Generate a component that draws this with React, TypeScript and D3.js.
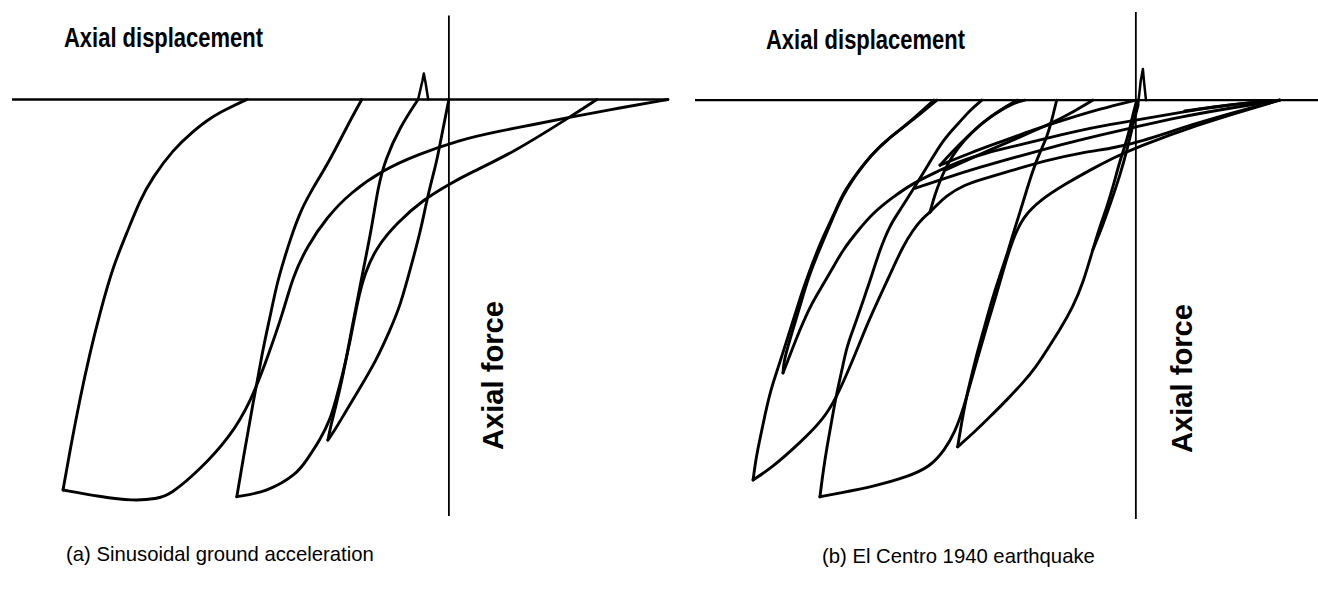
import React from "react";
import * as d3 from "d3";

type P = [number, number];

// ---------- axis extents (displacement, axial force; normalised units) ----------
const dispExtentA: [number, number] = [-9.93, 4.98];
const forceExtentA: [number, number] = [0.2, -0.992];
const dispExtentB: [number, number] = [-10.02, 4.14];
const forceExtentB: [number, number] = [0.21, -0.998];

// ---------- texts ----------
const displacementLabel = "Axial displacement";
const forceLabel = "Axial force";
const captionA = "(a) Sinusoidal ground acceleration";
const captionB = "(b) El Centro 1940 earthquake";

// ---------- panel (a): sinusoidal ground acceleration ----------
const sinBigLoopLeft: P[] = [
  [-4.59, 0], [-5.0, -0.02], [-5.4, -0.042], [-5.83, -0.077], [-6.27, -0.12], [-6.73, -0.185],
  [-7.02, -0.239], [-7.32, -0.318], [-7.64, -0.399], [-7.93, -0.508], [-8.16, -0.604],
  [-8.39, -0.715], [-8.61, -0.835], [-8.77, -0.93],
];
const sinBigLoopReturn: P[] = [
  [-8.77, -0.93], [-7.93, -0.946], [-7.18, -0.956], [-6.64, -0.951], [-6.34, -0.942],
  [-5.66, -0.882], [-4.98, -0.804], [-4.52, -0.723], [-4.14, -0.62], [-3.77, -0.508],
  [-3.55, -0.423], [-3.23, -0.351], [-2.77, -0.28], [-2.25, -0.223], [-1.5, -0.168],
  [-0.73, -0.132], [0.25, -0.096], [1.16, -0.075], [1.91, -0.06], [2.75, -0.042],
  [3.89, -0.02], [4.98, 0],
];
const sinMidLoopLeft: P[] = [
  [-4.82, -0.946], [-4.68, -0.858], [-4.45, -0.723], [-4.23, -0.596], [-4.07, -0.52],
  [-3.91, -0.439], [-3.75, -0.382], [-3.61, -0.335], [-3.39, -0.27], [-3.16, -0.223],
  [-2.7, -0.144], [-2.32, -0.065], [-1.98, 0],
];
const sinMidLoopReturn: P[] = [
  [-4.82, -0.946], [-4.14, -0.935], [-3.45, -0.892], [-3.23, -0.858], [-2.93, -0.811],
  [-2.7, -0.763], [-2.57, -0.715], [-2.43, -0.661], [-2.25, -0.58], [-2.07, -0.477],
  [-1.91, -0.413], [-1.64, -0.351], [-1.18, -0.294], [-0.59, -0.239], [0.02, -0.201],
  [0.48, -0.175], [1.45, -0.127], [2.75, -0.042], [3.36, 0],
];
const sinSpikeBranch: P[] = [
  [-2.75, -0.811], [-2.68, -0.775], [-2.59, -0.739], [-2.41, -0.661], [-2.2, -0.542],
  [-1.98, -0.423], [-1.75, -0.304], [-1.61, -0.208], [-1.45, -0.144], [-1.11, -0.065],
  [-0.7, 0],
];
const sinSpike: P[] = [[-0.7, 0], [-0.6, 0.045], [-0.57, 0.062], [-0.53, 0.04], [-0.47, 0]];
const sinFirstBranch: P[] = [
  [-2.75, -0.811], [-2.59, -0.787], [-2.36, -0.746], [-2.09, -0.699], [-1.64, -0.62],
  [-1.34, -0.549], [-1.11, -0.494], [-0.82, -0.382], [-0.64, -0.311], [-0.5, -0.239],
  [-0.36, -0.18], [-0.27, -0.144], [-0.14, -0.073], [0, 0],
];

// ---------- panel (b): El Centro 1940 ----------
const ecOuterLeft: P[] = [
  [-4.52, 0], [-5.07, -0.048], [-5.59, -0.088], [-5.98, -0.126], [-6.34, -0.174],
  [-6.66, -0.221], [-6.89, -0.279], [-7.11, -0.326], [-7.25, -0.362], [-7.41, -0.405],
  [-7.57, -0.452], [-7.75, -0.512], [-7.93, -0.571], [-8.11, -0.631], [-8.3, -0.69],
  [-8.43, -0.75], [-8.55, -0.81], [-8.64, -0.857], [-8.7, -0.905],
];
const ecOuterInner: P[] = [
  [-4.59, 0], [-5.11, -0.05], [-5.64, -0.093], [-6.02, -0.131], [-6.39, -0.181],
  [-6.68, -0.231], [-6.91, -0.286], [-7.11, -0.336], [-7.25, -0.371], [-7.41, -0.414],
  [-7.55, -0.46], [-7.68, -0.507], [-7.82, -0.555], [-7.93, -0.595], [-8.0, -0.624],
  [-8.02, -0.65],
];
const ecSmallVRise: P[] = [
  [-8.02, -0.65], [-7.86, -0.607], [-7.64, -0.548], [-7.39, -0.488], [-7.11, -0.44],
  [-6.89, -0.4], [-6.66, -0.357], [-6.34, -0.314], [-5.98, -0.269], [-5.52, -0.231],
  [-5.07, -0.198], [-4.45, -0.167], [-4.07, -0.148], [-3.43, -0.126], [-2.64, -0.107],
  [-1.73, -0.083], [-0.82, -0.062], [0, -0.048], [1.0, -0.029], [2.14, -0.01], [3.27, 0],
];
const ecOuterRise: P[] = [
  [-8.7, -0.905], [-8.25, -0.874], [-7.64, -0.817], [-7.11, -0.762], [-6.8, -0.707],
  [-6.55, -0.648], [-6.34, -0.595], [-6.14, -0.543], [-5.93, -0.493], [-5.73, -0.448],
  [-5.52, -0.4], [-5.3, -0.35], [-5.07, -0.31], [-4.84, -0.281], [-4.68, -0.267],
];
const ecCuspSteep: P[] = [
  [-4.68, -0.267], [-4.57, -0.226], [-4.43, -0.186], [-4.27, -0.15], [-4.05, -0.114],
  [-3.73, -0.076], [-3.32, -0.04], [-2.8, -0.007], [-2.52, 0],
];
const ecCuspToTip: P[] = [
  [-4.68, -0.267], [-4.3, -0.226], [-3.89, -0.202], [-3.55, -0.19], [-2.8, -0.167],
  [-2.02, -0.143], [-1.27, -0.126], [-0.52, -0.114], [0.02, -0.102], [1.45, -0.052],
  [2.59, -0.019], [3.27, 0],
];
const ecSecondLeft: P[] = [
  [-3.5, 0], [-3.77, -0.024], [-4.0, -0.052], [-4.39, -0.095], [-4.75, -0.16],
  [-5.07, -0.214], [-5.36, -0.262], [-5.59, -0.298], [-5.82, -0.357], [-6.0, -0.417],
  [-6.14, -0.46], [-6.27, -0.5], [-6.43, -0.548], [-6.57, -0.588], [-6.68, -0.643],
  [-6.8, -0.698], [-6.91, -0.762], [-7.02, -0.826], [-7.11, -0.886], [-7.18, -0.945],
];
const ecSecondReturn: P[] = [
  [-7.18, -0.945], [-6.73, -0.936], [-5.98, -0.921], [-5.2, -0.898], [-4.68, -0.874],
  [-4.34, -0.833], [-4.11, -0.79], [-3.93, -0.738], [-3.77, -0.679], [-3.61, -0.619],
  [-3.39, -0.54], [-3.16, -0.46], [-2.98, -0.393], [-2.8, -0.333], [-2.57, -0.279],
  [-2.18, -0.238], [-1.57, -0.198], [-1.05, -0.167], [-0.52, -0.138], [0.02, -0.112],
  [1.45, -0.057], [2.59, -0.021], [3.27, 0],
];
const ecThirdLeft: P[] = [
  [-4.05, -0.826], [-3.95, -0.762], [-3.84, -0.702], [-3.73, -0.655], [-3.59, -0.595],
  [-3.43, -0.536], [-3.27, -0.476], [-3.09, -0.417], [-2.93, -0.369], [-2.8, -0.321],
  [-2.64, -0.269], [-2.48, -0.214], [-2.34, -0.167], [-2.18, -0.124], [-2.02, -0.088],
  [-1.91, -0.048], [-1.8, 0],
];
const ecThirdRight: P[] = [
  [-4.05, -0.826], [-3.66, -0.79], [-3.32, -0.755], [-2.93, -0.714], [-2.57, -0.674],
  [-2.27, -0.636], [-2.02, -0.595], [-1.73, -0.548], [-1.43, -0.493], [-1.2, -0.436],
  [-0.98, -0.357], [-0.82, -0.302], [-0.66, -0.255], [-0.52, -0.207], [-0.36, -0.143],
  [-0.2, -0.095], [-0.07, -0.036], [0.02, 0],
];
const ecSpikeBranch: P[] = [
  [-0.98, -0.357], [-0.75, -0.298], [-0.55, -0.238], [-0.36, -0.179], [-0.2, -0.119],
  [-0.07, -0.06], [0.05, -0.012],
];
const ecSpike: P[] = [[0.05, -0.012], [0.11, 0.045], [0.16, 0.074], [0.19, 0.04], [0.23, 0]];
const ecSmallCrescentA: P[] = [
  [-2.7, 0], [-3.09, -0.024], [-3.48, -0.052], [-3.84, -0.088], [-4.18, -0.124], [-4.45, -0.155],
];
const ecSmallReturnA: P[] = [
  [-4.45, -0.155], [-3.77, -0.126], [-3.09, -0.1], [-2.34, -0.071], [-1.57, -0.045],
  [-0.82, -0.021], [0, 0],
];
const ecSmallCrescentB: P[] = [
  [-0.98, 0], [-1.39, -0.026], [-1.95, -0.057], [-2.64, -0.088], [-3.32, -0.119],
  [-3.95, -0.148], [-4.34, -0.167],
];
const ecSmallReturnB: P[] = [
  [-5.02, -0.21], [-4.34, -0.186], [-3.55, -0.16], [-2.64, -0.133], [-1.73, -0.107],
  [-0.82, -0.083], [0, -0.064], [1.0, -0.04], [2.14, -0.019], [3.27, 0],
];
const ecTipStroke: P[] = [[1.11, -0.026], [1.91, -0.014], [2.7, -0.005]];

const panelACurves: P[][] = [
  sinBigLoopLeft, sinBigLoopReturn, sinMidLoopLeft, sinMidLoopReturn, sinSpikeBranch, sinFirstBranch,
];
const panelASpikes: P[][] = [sinSpike];
const panelBCurves: P[][] = [
  ecOuterLeft, ecOuterInner, ecSmallVRise, ecOuterRise, ecCuspSteep, ecCuspToTip,
  ecSecondLeft, ecSecondReturn, ecThirdLeft, ecThirdRight, ecSpikeBranch,
  ecSmallCrescentA, ecSmallReturnA, ecSmallCrescentB, ecSmallReturnB, ecTipStroke,
];
const panelBSpikes: P[][] = [ecSpike];

const FONT = "Arial, 'Liberation Sans', Helvetica, sans-serif";

interface PanelProps {
  curves: P[][];
  spikes: P[][];
  dispExtent: [number, number];
  forceExtent: [number, number];
  xRange: [number, number];
  yRange: [number, number];
  dispLabelPos: [number, number];
  forceLabelPos: [number, number];
  caption: string;
  captionPos: [number, number];
}

function Panel(p: PanelProps) {
  const x = d3.scaleLinear().domain(p.dispExtent).range(p.xRange);
  const y = d3.scaleLinear().domain(p.forceExtent).range(p.yRange);
  const smooth = d3
    .line<P>()
    .x((d) => x(d[0]))
    .y((d) => y(d[1]))
    .curve(d3.curveBasis);
  const sharp = d3
    .line<P>()
    .x((d) => x(d[0]))
    .y((d) => y(d[1]))
    .curve(d3.curveLinear);
  return (
    <g>
      <line x1={x(p.dispExtent[0])} x2={x(p.dispExtent[1])} y1={y(0)} y2={y(0)} stroke="#000" strokeWidth={2.4} />
      <line x1={x(0)} x2={x(0)} y1={y(p.forceExtent[0])} y2={y(p.forceExtent[1])} stroke="#000" strokeWidth={1.8} />
      {p.curves.map((c, i) => (
        <path key={"c" + i} d={smooth(c) || ""} fill="none" stroke="#000" strokeWidth={2.9}
          strokeLinejoin="round" strokeLinecap="round" />
      ))}
      {p.spikes.map((c, i) => (
        <path key={"s" + i} d={sharp(c) || ""} fill="none" stroke="#000" strokeWidth={2.5}
          strokeLinejoin="round" strokeLinecap="round" />
      ))}
      <text x={p.dispLabelPos[0]} y={p.dispLabelPos[1]} fontFamily={FONT} fontWeight="bold" fontSize={28}
        textLength={199} lengthAdjust="spacingAndGlyphs" fill="#000">{displacementLabel}</text>
      <text transform={`translate(${p.forceLabelPos[0]},${p.forceLabelPos[1]}) rotate(-90)`} fontFamily={FONT}
        fontWeight="bold" fontSize={29} textLength={149} lengthAdjust="spacingAndGlyphs" fill="#000">{forceLabel}</text>
      <text x={p.captionPos[0]} y={p.captionPos[1]} fontFamily={FONT} fontSize={20.3} fill="#000">{p.caption}</text>
    </g>
  );
}

export default function App() {
  return (
    <div style={{ position: "absolute", left: 0, top: 0, background: "#fff" }}>
      <svg width={1318} height={597} viewBox="0 0 1318 597" style={{ display: "block", background: "#fff" }}>
        <Panel curves={panelACurves} spikes={panelASpikes} dispExtent={dispExtentA} forceExtent={forceExtentA}
          xRange={[12, 668]} yRange={[15.5, 516]} dispLabelPos={[64, 47]} forceLabelPos={[503, 450]}
          caption={captionA} captionPos={[66, 561]} />
        <Panel curves={panelBCurves} spikes={panelBSpikes} dispExtent={dispExtentB} forceExtent={forceExtentB}
          xRange={[695, 1318]} yRange={[12, 519]} dispLabelPos={[766, 49]} forceLabelPos={[1192, 453]}
          caption={captionB} captionPos={[822, 563]} />
      </svg>
    </div>
  );
}
